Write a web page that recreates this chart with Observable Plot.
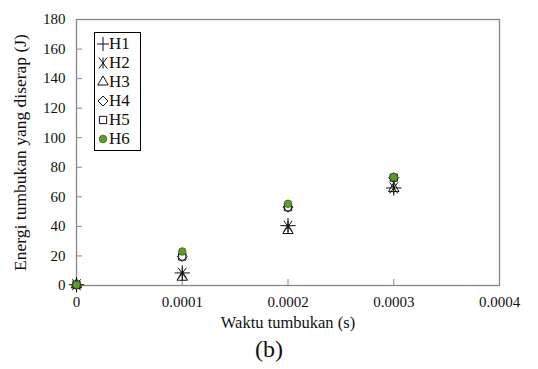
<!DOCTYPE html>
<html>
<head>
<meta charset="utf-8">
<script src="https://cdn.jsdelivr.net/npm/d3@7"></script>
<script src="https://cdn.jsdelivr.net/npm/@observablehq/plot@0.6"></script>
<style>
  html, body { margin: 0; padding: 0; background: #fff; }
  #wrap { position: relative; width: 538px; height: 369px; font-family: "Liberation Serif", serif; }
  #chart svg, #chart svg text { font-family: "Liberation Serif", serif !important; }
  #legend { position: absolute; left: 94px; top: 32px; width: 45px; border: 1.5px solid #000; background: #fff; padding: 1px 0 2px 0; }
  #legend .row { display: flex; align-items: center; height: 19px; font-size: 17px; color: #111; }
  #legend svg { margin-left: 2px; }
  #caption { position: absolute; left: 0; width: 538px; top: 334px; text-align: center; font-size: 24px; line-height: 30px; color: #111; }
</style>
</head>
<body>
<div id="wrap">
  <div id="chart"></div>
  <div id="legend"></div>
  <div id="caption">(b)</div>
</div>
<script>
// Impact time (s) and absorbed impact energy (J) for each specimen
const times = [0, 0.0001, 0.0002, 0.0003];
const seriesNames = ["H1", "H2", "H3", "H4", "H5", "H6"];
const H1 = [0.5, 8.5, 40.5, 66];
const H2 = [0.5, 8.3, 40, 66];
const H3 = [0.5, 5.6, 37.2, 65.6];
const H4 = [0.5, 19.6, 53, 73];
const H5 = [0.5, 19.6, 53, 73];
const H6 = [0.5, 23, 55.3, 73.3];
const yTicks = [0, 20, 40, 60, 80, 100, 120, 140, 160, 180];
const xTicks = [0, 0.0001, 0.0002, 0.0003, 0.0004];

const values = [H1, H2, H3, H4, H5, H6];
const green = "#5c9e2e";
const greenEdge = "#3a5f20";

// Star marker: an X crossed by a vertical stroke
const star = {
  draw(ctx, size) {
    const r = Math.sqrt(size / Math.PI);
    const a = r * 0.75;
    ctx.moveTo(-a, -r); ctx.lineTo(a, r);
    ctx.moveTo(a, -r); ctx.lineTo(-a, r);
    ctx.moveTo(0, -r); ctx.lineTo(0, r);
  }
};

const markers = [
  { symbol: d3.symbolPlus, r: 5, fill: "none", stroke: "#111" },
  { symbol: star, r: 5.5, fill: "none", stroke: "#111" },
  { symbol: d3.symbolTriangle2, r: 5, fill: "none", stroke: "#111" },
  { symbol: d3.symbolDiamond2, r: 4.5, fill: "none", stroke: "#111" },
  { symbol: d3.symbolSquare2, r: 4.6, fill: "none", stroke: "#111" },
  { symbol: d3.symbolCircle, r: 3.8, fill: green, stroke: greenEdge }
];

const series = seriesNames.map((name, i) => times.map((t, j) => ({ series: name, t, e: values[i][j] })));

const font = "Liberation Serif, serif";
const gray = "#888";

const chart = Plot.plot({
  width: 538,
  height: 334,
  marginLeft: 76,
  marginRight: 39,
  marginTop: 19,
  marginBottom: 49,
  style: { fontFamily: font, color: "#111", background: "#fff" },
  x: { domain: [0, 0.0004] },
  y: { domain: [0, 180] },
  marks: [
    Plot.frame({ stroke: gray, strokeWidth: 1.3 }),
    // tick labels outside, tick marks pointing into the plot
    Plot.axisY({ ticks: yTicks, tickSize: 0, tickPadding: 11, fontSize: 15,
      label: "Energi tumbukan yang diserap (J)", labelAnchor: "center", labelArrow: "none", labelOffset: 63 }),
    Plot.axisY({ ticks: yTicks, tickSize: 6, dx: 6, text: null, label: null, stroke: gray }),
    Plot.axisX({ ticks: xTicks, tickSize: 0, tickPadding: 11, fontSize: 15,
      tickFormat: d => d === 0 ? "0" : d.toFixed(4),
      label: "Waktu tumbukan (s)", labelAnchor: "center", labelArrow: "none", labelOffset: 42 }),
    Plot.axisX({ ticks: xTicks, tickSize: 6, dy: -6, text: null, label: null, stroke: gray }),
    ...series.map((data, i) => Plot.dot(data, {
      x: "t", y: "e", symbol: markers[i].symbol, r: markers[i].r,
      fill: markers[i].fill, stroke: markers[i].stroke, strokeWidth: i === 5 ? 0.8 : 1
    }))
  ]
});
// larger axis titles
chart.querySelectorAll("g[aria-label='y-axis label'] text")
  .forEach(t => t.setAttribute("font-size", "17.5"));
chart.querySelectorAll("g[aria-label='x-axis label'] text")
  .forEach(t => t.setAttribute("font-size", "16.5"));
document.getElementById("chart").appendChild(chart);

// Legend
const legend = d3.select("#legend");
seriesNames.forEach((name, i) => {
  const m = markers[i];
  const row = legend.append("div").attr("class", "row");
  const svg = row.append("svg").attr("width", 12).attr("height", 14);
  svg.append("path")
    .attr("transform", "translate(6,7)")
    .attr("d", d3.symbol(m.symbol, Math.PI * m.r * m.r)())
    .attr("fill", m.fill)
    .attr("stroke", m.stroke)
    .attr("stroke-width", i === 5 ? 0.8 : 1);
  row.append("span").text(name);
});
</script>
</body>
</html>
